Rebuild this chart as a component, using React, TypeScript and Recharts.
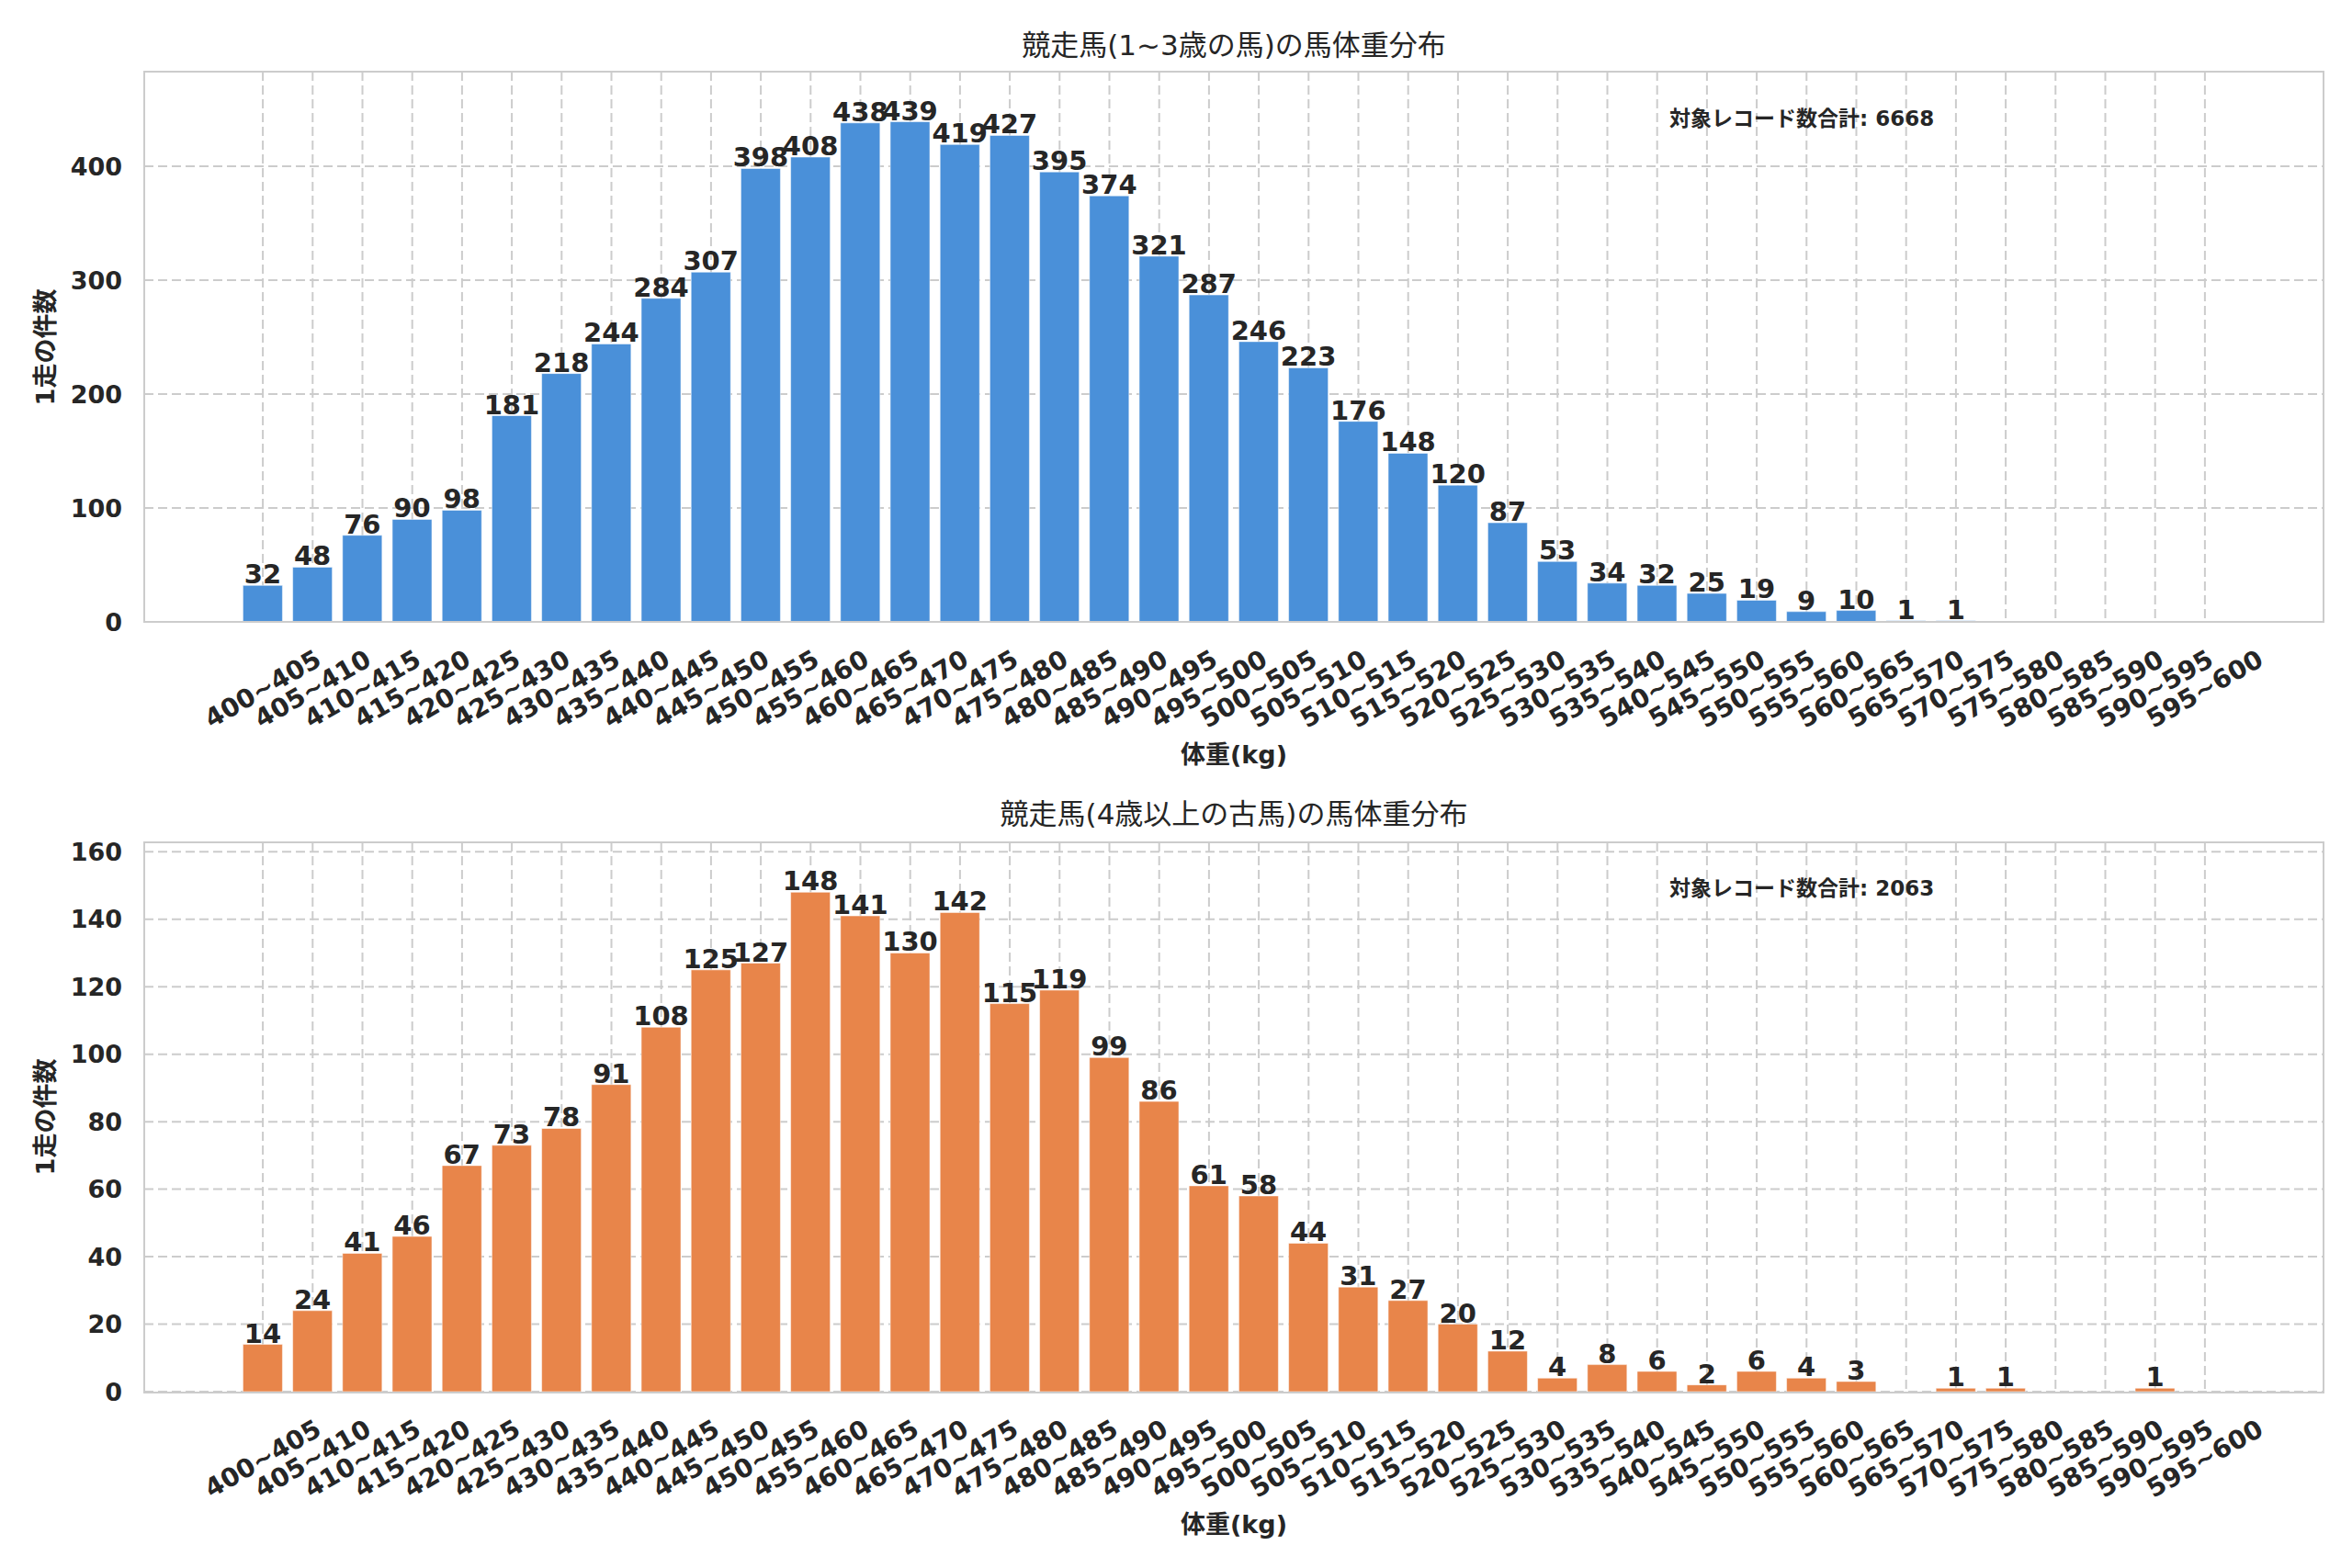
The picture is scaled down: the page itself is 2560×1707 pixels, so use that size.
import React from 'react';
import { BarChart, Bar, XAxis, YAxis, CartesianGrid, LabelList } from 'recharts';

const categories = [
  '400~405', '405~410', '410~415', '415~420', '420~425', '425~430', '430~435', '435~440',
  '440~445', '445~450', '450~455', '455~460', '460~465', '465~470', '470~475', '475~480',
  '480~485', '485~490', '490~495', '495~500', '500~505', '505~510', '510~515', '515~520',
  '520~525', '525~530', '530~535', '535~540', '540~545', '545~550', '550~555', '555~560',
  '560~565', '565~570', '570~575', '575~580', '580~585', '585~590', '590~595', '595~600',
];

const youngCounts = [
  32, 48, 76, 90, 98, 181, 218, 244, 284, 307, 398, 408, 438, 439, 419, 427, 395, 374, 321, 287,
  246, 223, 176, 148, 120, 87, 53, 34, 32, 25, 19, 9, 10, 1, 1, 0, 0, 0, 0, 0,
];

const olderCounts = [
  14, 24, 41, 46, 67, 73, 78, 91, 108, 125, 127, 148, 141, 130, 142, 115, 119, 99, 86, 61,
  58, 44, 31, 27, 20, 12, 4, 8, 6, 2, 6, 4, 3, 0, 1, 1, 0, 0, 1, 0,
];

const youngTicks = [0, 100, 200, 300, 400];
const olderTicks = [0, 20, 40, 60, 80, 100, 120, 140, 160];

const youngTotal = 6668;
const olderTotal = 2063;

const FONT = '"DejaVu Sans", "Noto Sans CJK JP", sans-serif';
const TEXT = '#262626';
const GRID = '#cccccc';

const youngData = categories.map((c, i) => ({ range: c, count: youngCounts[i] }));
const olderData = categories.map((c, i) => ({ range: c, count: olderCounts[i] }));

const XTick = (props: any) => {
  const { x, y, payload } = props;
  const cy = y + 73;
  return (
    <text
      x={x}
      y={cy}
      textAnchor="middle"
      dominantBaseline="central"
      transform={`rotate(-30, ${x}, ${cy})`}
      fontFamily={FONT}
      fontSize={28}
      fontWeight="bold"
      fill={TEXT}
    >
      {payload.value}
    </text>
  );
};

const ValueLabel = (props: any) => {
  const { x, y, width, value } = props;
  if (!value) return null;
  return (
    <text
      x={Number(x) + Number(width) / 2}
      y={Number(y) - 2}
      textAnchor="middle"
      fontFamily={FONT}
      fontSize={29}
      fontWeight="bold"
      fill={TEXT}
    >
      {value}
    </text>
  );
};

type PanelProps = {
  data: { range: string; count: number }[];
  color: string;
  ticks: number[];
  yMax: number;
  height: number;
  marginTop: number;
  marginBottom: number;
};

const Panel = ({ data, color, ticks, yMax, height, marginTop, marginBottom }: PanelProps) => (
  <BarChart
    width={2560}
    height={height}
    data={data}
    margin={{ top: marginTop, right: 31, left: 57, bottom: marginBottom }}
    barCategoryGap="10%"
  >
    <CartesianGrid stroke={GRID} strokeWidth={2} strokeDasharray="10 5" />
    <XAxis
      dataKey="range"
      type="category"
      interval={0}
      padding={{ left: 102, right: 102 }}
      height={150}
      tickSize={0}
      tickMargin={0}
      tickLine={false}
      axisLine={false}
      tick={(p: any) => <XTick {...p} />}
    />
    <YAxis
      type="number"
      domain={[0, yMax]}
      ticks={ticks}
      width={100}
      tickSize={0}
      tickMargin={24}
      tickLine={false}
      axisLine={false}
      tick={{ fontFamily: FONT, fontSize: 27, fontWeight: 'bold', fill: TEXT }}
    />
    <Bar dataKey="count" fill={color} stroke="#ffffff" strokeOpacity={0.5} strokeWidth={1} isAnimationActive={false}>
      <LabelList dataKey="count" content={(p: any) => <ValueLabel {...p} />} />
    </Bar>
  </BarChart>
);

const abs = (left: number, top: number, extra: React.CSSProperties = {}): React.CSSProperties => ({
  position: 'absolute',
  left,
  top,
  transform: 'translate(-50%, -50%)',
  whiteSpace: 'nowrap',
  fontFamily: FONT,
  color: TEXT,
  lineHeight: 1,
  ...extra,
});

const frame = (top: number): React.CSSProperties => ({
  position: 'absolute',
  left: 156,
  top: top - 1,
  width: 2374,
  height: 601,
  border: `2.5px solid ${GRID}`,
  boxSizing: 'border-box',
  pointerEvents: 'none',
});

export default function App() {
  const plotCenterX = (157 + 2529) / 2;
  return (
    <div style={{ position: 'absolute', left: 0, top: 0, width: 2560, height: 1707, background: '#ffffff', fontFamily: FONT }}>
      <div style={{ position: 'absolute', left: 0, top: 0 }}>
        <Panel data={youngData} color="#4A90D9" ticks={youngTicks} yMax={483} height={853} marginTop={78} marginBottom={26} />
      </div>
      <div style={{ position: 'absolute', left: 0, top: 853 }}>
        <Panel data={olderData} color="#E8854A" ticks={olderTicks} yMax={162.8} height={854} marginTop={64} marginBottom={42} />
      </div>
      <div style={frame(78)} />
      <div style={frame(917)} />

      <div style={abs(plotCenterX, 49, { fontSize: 31 })}>競走馬(1~3歳の馬)の馬体重分布</div>
      <div style={abs(plotCenterX, 886, { fontSize: 31 })}>競走馬(4歳以上の古馬)の馬体重分布</div>

      <div style={abs(plotCenterX, 821, { fontSize: 27, fontWeight: 'bold' })}>体重(kg)</div>
      <div style={abs(plotCenterX, 1659, { fontSize: 27, fontWeight: 'bold' })}>体重(kg)</div>

      <div style={abs(49, 378, { fontSize: 27, fontWeight: 'bold', transform: 'translate(-50%, -50%) rotate(-90deg)' })}>1走の件数</div>
      <div style={abs(49, 1216, { fontSize: 27, fontWeight: 'bold', transform: 'translate(-50%, -50%) rotate(-90deg)' })}>1走の件数</div>

      <div style={{ position: 'absolute', left: 1817, top: 129, transform: 'translateY(-50%)', fontFamily: FONT, fontSize: 23, fontWeight: 'bold', color: TEXT, whiteSpace: 'nowrap', lineHeight: 1 }}>
        対象レコード数合計: {youngTotal}
      </div>
      <div style={{ position: 'absolute', left: 1817, top: 967, transform: 'translateY(-50%)', fontFamily: FONT, fontSize: 23, fontWeight: 'bold', color: TEXT, whiteSpace: 'nowrap', lineHeight: 1 }}>
        対象レコード数合計: {olderTotal}
      </div>
    </div>
  );
}
